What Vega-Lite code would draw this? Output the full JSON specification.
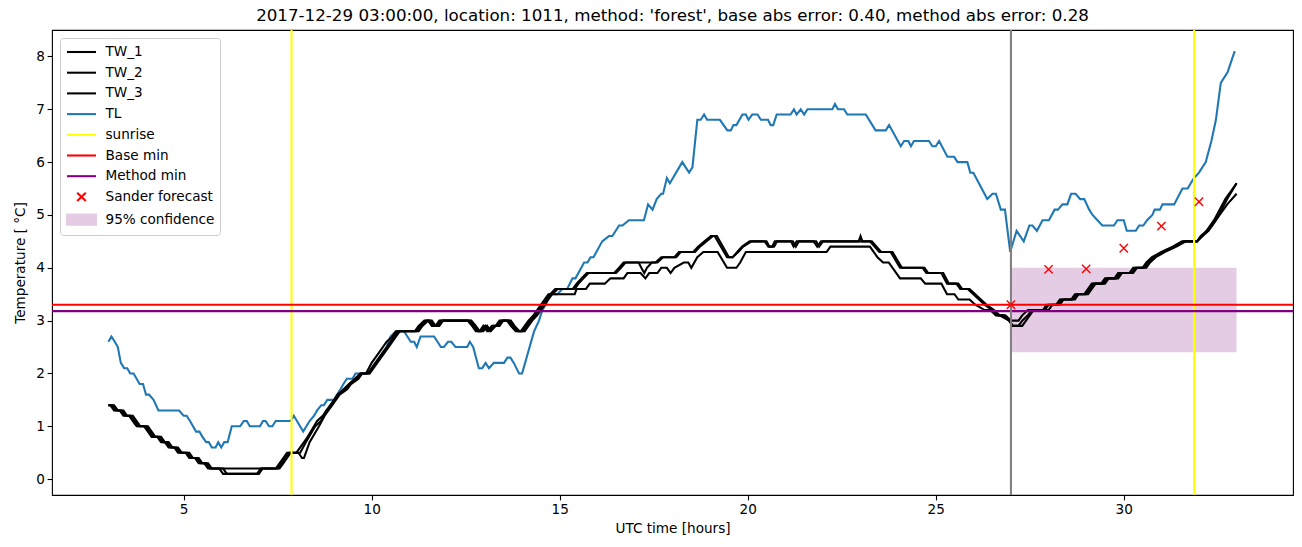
{
"$schema": "https://vega.github.io/schema/vega-lite/v6.json",
"width": 1241, "height": 465,
"autosize": {"type": "none"},
"padding": {"left": 52, "top": 30, "right": 9, "bottom": 52},
"background": "white",
"title": {"text": "2017-12-29 03:00:00, location: 1011, method: 'forest', base abs error: 0.40, method abs error: 0.28", "fontSize": 16.7, "font": "DejaVu Sans", "fontWeight": "normal", "offset": 4, "anchor": "middle", "color": "black"},
"config": {
  "font": "DejaVu Sans",
  "view": {"stroke": "black", "strokeWidth": 1.1},
  "axis": {"grid": false, "domain": false, "tickColor": "black", "tickSize": 4.9, "tickWidth": 1.1, "labelFontSize": 13.6, "labelColor": "black", "titleFontSize": 13.6, "titleFontWeight": "normal", "titleColor": "black", "labelFont": "DejaVu Sans", "titleFont": "DejaVu Sans", "labelPadding": 2.8},
  "legend": {
    "title": null, "orient": "top-left", "offset": 8, "padding": 5.5, "fillColor": "rgba(255,255,255,0.8)", "strokeColor": "#cccccc", "cornerRadius": 3,
    "labelFont": "DejaVu Sans", "labelFontSize": 13.6, "labelColor": "black", "labelOffset": 23, "rowPadding": 4.7, "symbolSize": 196, "symbolStrokeWidth": 2.08,
    "labelLimit": 300
  }
},
"datasets": {
  "lines": [
{"series":"TL","t":3.0,"v":2.6},{"series":"TL","t":3.08,"v":2.7},{"series":"TL","t":3.17,"v":2.6},{"series":"TL","t":3.25,"v":2.5},{"series":"TL","t":3.33,"v":2.2},{"series":"TL","t":3.42,"v":2.1},{"series":"TL","t":3.5,"v":2.1},{"series":"TL","t":3.58,"v":2.0},{"series":"TL","t":3.67,"v":2.0},{"series":"TL","t":3.75,"v":1.9},{"series":"TL","t":3.83,"v":1.8},{"series":"TL","t":3.92,"v":1.8},{"series":"TL","t":4.0,"v":1.6},{"series":"TL","t":4.08,"v":1.6},{"series":"TL","t":4.2,"v":1.5},{"series":"TL","t":4.33,"v":1.3},{"series":"TL","t":4.88,"v":1.3},{"series":"TL","t":5.0,"v":1.2},{"series":"TL","t":5.08,"v":1.2},{"series":"TL","t":5.17,"v":1.1},{"series":"TL","t":5.33,"v":0.9},{"series":"TL","t":5.42,"v":0.9},{"series":"TL","t":5.5,"v":0.8},{"series":"TL","t":5.6,"v":0.7},{"series":"TL","t":5.67,"v":0.7},{"series":"TL","t":5.75,"v":0.6},{"series":"TL","t":5.85,"v":0.6},{"series":"TL","t":5.92,"v":0.7},{"series":"TL","t":6.0,"v":0.6},{"series":"TL","t":6.08,"v":0.7},{"series":"TL","t":6.17,"v":0.7},{"series":"TL","t":6.28,"v":1.0},{"series":"TL","t":6.5,"v":1.0},{"series":"TL","t":6.6,"v":1.1},{"series":"TL","t":6.68,"v":1.1},{"series":"TL","t":6.76,"v":1.0},{"series":"TL","t":7.03,"v":1.0},{"series":"TL","t":7.11,"v":1.1},{"series":"TL","t":7.18,"v":1.1},{"series":"TL","t":7.27,"v":1.0},{"series":"TL","t":7.36,"v":1.0},{"series":"TL","t":7.45,"v":1.1},{"series":"TL","t":7.85,"v":1.1},{"series":"TL","t":7.93,"v":1.2},{"series":"TL","t":8.18,"v":0.9},{"series":"TL","t":8.35,"v":1.1},{"series":"TL","t":8.47,"v":1.2},{"series":"TL","t":8.55,"v":1.3},{"series":"TL","t":8.66,"v":1.4},{"series":"TL","t":8.73,"v":1.4},{"series":"TL","t":8.82,"v":1.5},{"series":"TL","t":9.0,"v":1.5},{"series":"TL","t":9.08,"v":1.6},{"series":"TL","t":9.17,"v":1.7},{"series":"TL","t":9.25,"v":1.8},{"series":"TL","t":9.34,"v":1.9},{"series":"TL","t":9.49,"v":1.9},{"series":"TL","t":9.57,"v":2.0},{"series":"TL","t":9.93,"v":2.0},{"series":"TL","t":10.0,"v":2.1},{"series":"TL","t":10.1,"v":2.2},{"series":"TL","t":10.2,"v":2.3},{"series":"TL","t":10.3,"v":2.4},{"series":"TL","t":10.4,"v":2.5},{"series":"TL","t":10.5,"v":2.7},{"series":"TL","t":10.64,"v":2.8},{"series":"TL","t":10.86,"v":2.8},{"series":"TL","t":10.95,"v":2.7},{"series":"TL","t":11.04,"v":2.6},{"series":"TL","t":11.13,"v":2.6},{"series":"TL","t":11.2,"v":2.5},{"series":"TL","t":11.3,"v":2.7},{"series":"TL","t":11.66,"v":2.7},{"series":"TL","t":11.84,"v":2.5},{"series":"TL","t":11.92,"v":2.5},{"series":"TL","t":12.03,"v":2.6},{"series":"TL","t":12.12,"v":2.6},{"series":"TL","t":12.23,"v":2.5},{"series":"TL","t":12.54,"v":2.5},{"series":"TL","t":12.61,"v":2.6},{"series":"TL","t":12.7,"v":2.5},{"series":"TL","t":12.85,"v":2.1},{"series":"TL","t":12.94,"v":2.1},{"series":"TL","t":13.03,"v":2.2},{"series":"TL","t":13.12,"v":2.1},{"series":"TL","t":13.25,"v":2.2},{"series":"TL","t":13.52,"v":2.2},{"series":"TL","t":13.61,"v":2.3},{"series":"TL","t":13.69,"v":2.3},{"series":"TL","t":13.78,"v":2.2},{"series":"TL","t":13.92,"v":2.0},{"series":"TL","t":14.0,"v":2.0},{"series":"TL","t":14.32,"v":2.8},{"series":"TL","t":14.45,"v":3.0},{"series":"TL","t":14.54,"v":3.2},{"series":"TL","t":14.63,"v":3.3},{"series":"TL","t":14.74,"v":3.5},{"series":"TL","t":14.94,"v":3.5},{"series":"TL","t":15.07,"v":3.6},{"series":"TL","t":15.2,"v":3.6},{"series":"TL","t":15.34,"v":3.8},{"series":"TL","t":15.42,"v":3.8},{"series":"TL","t":15.65,"v":4.1},{"series":"TL","t":15.74,"v":4.1},{"series":"TL","t":15.82,"v":4.2},{"series":"TL","t":15.9,"v":4.2},{"series":"TL","t":16.13,"v":4.5},{"series":"TL","t":16.31,"v":4.6},{"series":"TL","t":16.4,"v":4.6},{"series":"TL","t":16.58,"v":4.8},{"series":"TL","t":16.67,"v":4.8},{"series":"TL","t":16.84,"v":4.9},{"series":"TL","t":17.24,"v":4.9},{"series":"TL","t":17.35,"v":5.2},{"series":"TL","t":17.47,"v":5.1},{"series":"TL","t":17.58,"v":5.3},{"series":"TL","t":17.7,"v":5.4},{"series":"TL","t":17.75,"v":5.4},{"series":"TL","t":17.85,"v":5.7},{"series":"TL","t":17.93,"v":5.6},{"series":"TL","t":18.26,"v":6.0},{"series":"TL","t":18.44,"v":5.8},{"series":"TL","t":18.53,"v":5.9},{"series":"TL","t":18.66,"v":6.8},{"series":"TL","t":18.75,"v":6.8},{"series":"TL","t":18.84,"v":6.9},{"series":"TL","t":18.92,"v":6.8},{"series":"TL","t":19.26,"v":6.8},{"series":"TL","t":19.46,"v":6.6},{"series":"TL","t":19.55,"v":6.6},{"series":"TL","t":19.62,"v":6.7},{"series":"TL","t":19.7,"v":6.7},{"series":"TL","t":19.86,"v":6.9},{"series":"TL","t":19.95,"v":6.9},{"series":"TL","t":20.02,"v":6.8},{"series":"TL","t":20.12,"v":6.9},{"series":"TL","t":20.26,"v":6.9},{"series":"TL","t":20.35,"v":6.8},{"series":"TL","t":20.54,"v":6.8},{"series":"TL","t":20.61,"v":6.7},{"series":"TL","t":20.68,"v":6.7},{"series":"TL","t":20.77,"v":6.9},{"series":"TL","t":21.14,"v":6.9},{"series":"TL","t":21.23,"v":7.0},{"series":"TL","t":21.3,"v":6.9},{"series":"TL","t":21.41,"v":7.0},{"series":"TL","t":21.5,"v":6.9},{"series":"TL","t":21.59,"v":7.0},{"series":"TL","t":22.25,"v":7.0},{"series":"TL","t":22.32,"v":7.1},{"series":"TL","t":22.4,"v":7.0},{"series":"TL","t":22.56,"v":7.0},{"series":"TL","t":22.65,"v":6.9},{"series":"TL","t":23.14,"v":6.9},{"series":"TL","t":23.4,"v":6.6},{"series":"TL","t":23.67,"v":6.6},{"series":"TL","t":23.76,"v":6.7},{"series":"TL","t":24.07,"v":6.3},{"series":"TL","t":24.16,"v":6.4},{"series":"TL","t":24.27,"v":6.4},{"series":"TL","t":24.34,"v":6.3},{"series":"TL","t":24.42,"v":6.4},{"series":"TL","t":24.82,"v":6.4},{"series":"TL","t":24.91,"v":6.3},{"series":"TL","t":25.0,"v":6.3},{"series":"TL","t":25.09,"v":6.4},{"series":"TL","t":25.31,"v":6.1},{"series":"TL","t":25.49,"v":6.1},{"series":"TL","t":25.58,"v":6.0},{"series":"TL","t":25.84,"v":6.0},{"series":"TL","t":25.92,"v":5.8},{"series":"TL","t":26.0,"v":5.8},{"series":"TL","t":26.37,"v":5.3},{"series":"TL","t":26.51,"v":5.4},{"series":"TL","t":26.6,"v":5.4},{"series":"TL","t":26.73,"v":5.1},{"series":"TL","t":26.84,"v":5.1},{"series":"TL","t":26.98,"v":4.3},{"series":"TL","t":27.15,"v":4.7},{"series":"TL","t":27.34,"v":4.5},{"series":"TL","t":27.49,"v":4.8},{"series":"TL","t":27.57,"v":4.8},{"series":"TL","t":27.69,"v":4.7},{"series":"TL","t":27.84,"v":4.9},{"series":"TL","t":28.01,"v":4.9},{"series":"TL","t":28.16,"v":5.1},{"series":"TL","t":28.25,"v":5.1},{"series":"TL","t":28.37,"v":5.2},{"series":"TL","t":28.5,"v":5.2},{"series":"TL","t":28.6,"v":5.4},{"series":"TL","t":28.72,"v":5.4},{"series":"TL","t":28.84,"v":5.3},{"series":"TL","t":28.95,"v":5.3},{"series":"TL","t":29.08,"v":5.1},{"series":"TL","t":29.17,"v":5.0},{"series":"TL","t":29.3,"v":4.9},{"series":"TL","t":29.43,"v":4.8},{"series":"TL","t":29.74,"v":4.8},{"series":"TL","t":29.83,"v":4.9},{"series":"TL","t":30.0,"v":4.9},{"series":"TL","t":30.08,"v":4.7},{"series":"TL","t":30.32,"v":4.7},{"series":"TL","t":30.41,"v":4.8},{"series":"TL","t":30.52,"v":4.8},{"series":"TL","t":30.62,"v":4.9},{"series":"TL","t":30.76,"v":5.0},{"series":"TL","t":30.82,"v":5.1},{"series":"TL","t":30.96,"v":5.1},{"series":"TL","t":31.03,"v":5.2},{"series":"TL","t":31.34,"v":5.2},{"series":"TL","t":31.56,"v":5.5},{"series":"TL","t":31.7,"v":5.5},{"series":"TL","t":31.78,"v":5.6},{"series":"TL","t":31.87,"v":5.7},{"series":"TL","t":32.0,"v":5.8},{"series":"TL","t":32.18,"v":6.0},{"series":"TL","t":32.33,"v":6.4},{"series":"TL","t":32.45,"v":6.8},{"series":"TL","t":32.58,"v":7.5},{"series":"TL","t":32.76,"v":7.7},{"series":"TL","t":32.95,"v":8.1},

{"series":"TW_1","t":3.0,"v":1.4},{"series":"TW_1","t":3.1,"v":1.4},{"series":"TW_1","t":3.2,"v":1.3},{"series":"TW_1","t":3.35,"v":1.3},{"series":"TW_1","t":3.45,"v":1.2},{"series":"TW_1","t":3.6,"v":1.2},{"series":"TW_1","t":3.7,"v":1.1},{"series":"TW_1","t":3.8,"v":1.0},{"series":"TW_1","t":4.0,"v":1.0},{"series":"TW_1","t":4.1,"v":0.9},{"series":"TW_1","t":4.2,"v":0.8},{"series":"TW_1","t":4.35,"v":0.8},{"series":"TW_1","t":4.45,"v":0.7},{"series":"TW_1","t":4.55,"v":0.7},{"series":"TW_1","t":4.65,"v":0.6},{"series":"TW_1","t":4.8,"v":0.6},{"series":"TW_1","t":4.9,"v":0.5},{"series":"TW_1","t":5.1,"v":0.5},{"series":"TW_1","t":5.2,"v":0.4},{"series":"TW_1","t":5.35,"v":0.4},{"series":"TW_1","t":5.45,"v":0.3},{"series":"TW_1","t":5.6,"v":0.3},{"series":"TW_1","t":5.7,"v":0.2},{"series":"TW_1","t":7.5,"v":0.2},{"series":"TW_1","t":7.6,"v":0.3},{"series":"TW_1","t":7.7,"v":0.4},{"series":"TW_1","t":7.8,"v":0.5},{"series":"TW_1","t":8.0,"v":0.5},{"series":"TW_1","t":8.3,"v":0.8},{"series":"TW_1","t":8.55,"v":1.1},{"series":"TW_1","t":8.7,"v":1.2},{"series":"TW_1","t":8.8,"v":1.3},{"series":"TW_1","t":9.0,"v":1.5},{"series":"TW_1","t":9.1,"v":1.6},{"series":"TW_1","t":9.3,"v":1.7},{"series":"TW_1","t":9.4,"v":1.8},{"series":"TW_1","t":9.6,"v":1.9},{"series":"TW_1","t":9.7,"v":2.0},{"series":"TW_1","t":9.9,"v":2.0},{"series":"TW_1","t":10.0,"v":2.1},{"series":"TW_1","t":10.2,"v":2.3},{"series":"TW_1","t":10.4,"v":2.5},{"series":"TW_1","t":10.6,"v":2.7},{"series":"TW_1","t":10.7,"v":2.8},{"series":"TW_1","t":11.2,"v":2.8},{"series":"TW_1","t":11.3,"v":2.9},{"series":"TW_1","t":11.45,"v":3.0},{"series":"TW_1","t":11.55,"v":3.0},{"series":"TW_1","t":11.65,"v":2.9},{"series":"TW_1","t":11.75,"v":2.9},{"series":"TW_1","t":11.85,"v":3.0},{"series":"TW_1","t":12.6,"v":3.0},{"series":"TW_1","t":12.72,"v":2.9},{"series":"TW_1","t":12.82,"v":2.8},{"series":"TW_1","t":12.92,"v":2.8},{"series":"TW_1","t":13.02,"v":2.9},{"series":"TW_1","t":13.12,"v":2.8},{"series":"TW_1","t":13.25,"v":2.9},{"series":"TW_1","t":13.35,"v":2.9},{"series":"TW_1","t":13.45,"v":3.0},{"series":"TW_1","t":13.65,"v":3.0},{"series":"TW_1","t":13.75,"v":2.9},{"series":"TW_1","t":13.88,"v":2.8},{"series":"TW_1","t":14.02,"v":2.8},{"series":"TW_1","t":14.12,"v":2.9},{"series":"TW_1","t":14.22,"v":3.0},{"series":"TW_1","t":14.35,"v":3.1},{"series":"TW_1","t":14.45,"v":3.2},{"series":"TW_1","t":14.55,"v":3.3},{"series":"TW_1","t":14.65,"v":3.4},{"series":"TW_1","t":14.75,"v":3.5},{"series":"TW_1","t":14.88,"v":3.6},{"series":"TW_1","t":15.35,"v":3.6},{"series":"TW_1","t":15.45,"v":3.7},{"series":"TW_1","t":15.58,"v":3.8},{"series":"TW_1","t":15.72,"v":3.9},{"series":"TW_1","t":16.45,"v":3.9},{"series":"TW_1","t":16.58,"v":4.0},{"series":"TW_1","t":16.7,"v":4.1},{"series":"TW_1","t":17.55,"v":4.1},{"series":"TW_1","t":17.7,"v":4.2},{"series":"TW_1","t":18.05,"v":4.2},{"series":"TW_1","t":18.17,"v":4.3},{"series":"TW_1","t":18.55,"v":4.3},{"series":"TW_1","t":18.68,"v":4.4},{"series":"TW_1","t":18.85,"v":4.5},{"series":"TW_1","t":19.02,"v":4.6},{"series":"TW_1","t":19.18,"v":4.6},{"series":"TW_1","t":19.5,"v":4.2},{"series":"TW_1","t":19.6,"v":4.2},{"series":"TW_1","t":19.75,"v":4.3},{"series":"TW_1","t":19.88,"v":4.4},{"series":"TW_1","t":20.1,"v":4.5},{"series":"TW_1","t":20.5,"v":4.5},{"series":"TW_1","t":20.58,"v":4.4},{"series":"TW_1","t":20.7,"v":4.4},{"series":"TW_1","t":20.78,"v":4.5},{"series":"TW_1","t":21.2,"v":4.5},{"series":"TW_1","t":21.28,"v":4.4},{"series":"TW_1","t":21.36,"v":4.5},{"series":"TW_1","t":21.82,"v":4.5},{"series":"TW_1","t":21.9,"v":4.4},{"series":"TW_1","t":22.0,"v":4.5},{"series":"TW_1","t":22.95,"v":4.5},{"series":"TW_1","t":23.0,"v":4.6},{"series":"TW_1","t":23.05,"v":4.5},{"series":"TW_1","t":23.25,"v":4.5},{"series":"TW_1","t":23.5,"v":4.3},{"series":"TW_1","t":23.8,"v":4.3},{"series":"TW_1","t":24.05,"v":4.0},{"series":"TW_1","t":24.65,"v":4.0},{"series":"TW_1","t":24.75,"v":3.9},{"series":"TW_1","t":25.15,"v":3.9},{"series":"TW_1","t":25.3,"v":3.7},{"series":"TW_1","t":25.55,"v":3.7},{"series":"TW_1","t":25.65,"v":3.6},{"series":"TW_1","t":25.85,"v":3.6},{"series":"TW_1","t":26.0,"v":3.5},{"series":"TW_1","t":26.15,"v":3.4},{"series":"TW_1","t":26.3,"v":3.3},{"series":"TW_1","t":26.5,"v":3.2},{"series":"TW_1","t":26.65,"v":3.1},{"series":"TW_1","t":26.85,"v":3.1},{"series":"TW_1","t":27.0,"v":3.0},{"series":"TW_1","t":27.2,"v":3.0},{"series":"TW_1","t":27.3,"v":3.1},{"series":"TW_1","t":27.45,"v":3.2},{"series":"TW_1","t":27.85,"v":3.2},{"series":"TW_1","t":27.95,"v":3.3},{"series":"TW_1","t":28.2,"v":3.3},{"series":"TW_1","t":28.3,"v":3.4},{"series":"TW_1","t":28.6,"v":3.4},{"series":"TW_1","t":28.7,"v":3.5},{"series":"TW_1","t":28.95,"v":3.5},{"series":"TW_1","t":29.05,"v":3.6},{"series":"TW_1","t":29.15,"v":3.7},{"series":"TW_1","t":29.4,"v":3.7},{"series":"TW_1","t":29.5,"v":3.8},{"series":"TW_1","t":29.75,"v":3.8},{"series":"TW_1","t":29.85,"v":3.9},{"series":"TW_1","t":30.15,"v":3.9},{"series":"TW_1","t":30.25,"v":4.0},{"series":"TW_1","t":30.5,"v":4.0},{"series":"TW_1","t":30.6,"v":4.1},{"series":"TW_1","t":30.75,"v":4.2},{"series":"TW_1","t":31.0,"v":4.3},{"series":"TW_1","t":31.3,"v":4.4},{"series":"TW_1","t":31.55,"v":4.5},{"series":"TW_1","t":31.95,"v":4.5},{"series":"TW_1","t":32.05,"v":4.6},{"series":"TW_1","t":32.2,"v":4.7},{"series":"TW_1","t":32.4,"v":4.9},{"series":"TW_1","t":32.7,"v":5.3},{"series":"TW_1","t":33.0,"v":5.6},

{"series":"TW_2","t":3.0,"v":1.4},{"series":"TW_2","t":3.15,"v":1.4},{"series":"TW_2","t":3.25,"v":1.3},{"series":"TW_2","t":3.4,"v":1.3},{"series":"TW_2","t":3.5,"v":1.2},{"series":"TW_2","t":3.65,"v":1.2},{"series":"TW_2","t":3.75,"v":1.1},{"series":"TW_2","t":3.85,"v":1.0},{"series":"TW_2","t":4.05,"v":1.0},{"series":"TW_2","t":4.15,"v":0.9},{"series":"TW_2","t":4.25,"v":0.8},{"series":"TW_2","t":4.4,"v":0.8},{"series":"TW_2","t":4.5,"v":0.7},{"series":"TW_2","t":4.6,"v":0.7},{"series":"TW_2","t":4.7,"v":0.6},{"series":"TW_2","t":4.85,"v":0.6},{"series":"TW_2","t":4.95,"v":0.5},{"series":"TW_2","t":5.15,"v":0.5},{"series":"TW_2","t":5.25,"v":0.4},{"series":"TW_2","t":5.4,"v":0.4},{"series":"TW_2","t":5.5,"v":0.3},{"series":"TW_2","t":5.65,"v":0.3},{"series":"TW_2","t":5.75,"v":0.2},{"series":"TW_2","t":6.05,"v":0.2},{"series":"TW_2","t":6.15,"v":0.1},{"series":"TW_2","t":7.0,"v":0.1},{"series":"TW_2","t":7.1,"v":0.2},{"series":"TW_2","t":7.55,"v":0.2},{"series":"TW_2","t":7.65,"v":0.3},{"series":"TW_2","t":7.75,"v":0.4},{"series":"TW_2","t":7.85,"v":0.5},{"series":"TW_2","t":8.05,"v":0.5},{"series":"TW_2","t":8.15,"v":0.4},{"series":"TW_2","t":8.2,"v":0.4},{"series":"TW_2","t":8.35,"v":0.7},{"series":"TW_2","t":8.6,"v":1.0},{"series":"TW_2","t":8.75,"v":1.2},{"series":"TW_2","t":8.85,"v":1.3},{"series":"TW_2","t":9.05,"v":1.5},{"series":"TW_2","t":9.15,"v":1.6},{"series":"TW_2","t":9.35,"v":1.7},{"series":"TW_2","t":9.45,"v":1.8},{"series":"TW_2","t":9.65,"v":1.9},{"series":"TW_2","t":9.75,"v":2.0},{"series":"TW_2","t":9.95,"v":2.0},{"series":"TW_2","t":10.05,"v":2.1},{"series":"TW_2","t":10.25,"v":2.3},{"series":"TW_2","t":10.45,"v":2.5},{"series":"TW_2","t":10.65,"v":2.7},{"series":"TW_2","t":10.75,"v":2.8},{"series":"TW_2","t":11.25,"v":2.8},{"series":"TW_2","t":11.35,"v":2.9},{"series":"TW_2","t":11.5,"v":3.0},{"series":"TW_2","t":11.6,"v":3.0},{"series":"TW_2","t":11.7,"v":2.9},{"series":"TW_2","t":11.8,"v":2.9},{"series":"TW_2","t":11.9,"v":3.0},{"series":"TW_2","t":12.65,"v":3.0},{"series":"TW_2","t":12.77,"v":2.9},{"series":"TW_2","t":12.87,"v":2.8},{"series":"TW_2","t":12.97,"v":2.8},{"series":"TW_2","t":13.07,"v":2.9},{"series":"TW_2","t":13.17,"v":2.8},{"series":"TW_2","t":13.3,"v":2.9},{"series":"TW_2","t":13.4,"v":2.9},{"series":"TW_2","t":13.5,"v":3.0},{"series":"TW_2","t":13.7,"v":3.0},{"series":"TW_2","t":13.8,"v":2.9},{"series":"TW_2","t":13.93,"v":2.8},{"series":"TW_2","t":14.07,"v":2.8},{"series":"TW_2","t":14.17,"v":2.9},{"series":"TW_2","t":14.27,"v":3.0},{"series":"TW_2","t":14.4,"v":3.1},{"series":"TW_2","t":14.5,"v":3.2},{"series":"TW_2","t":14.6,"v":3.3},{"series":"TW_2","t":14.7,"v":3.4},{"series":"TW_2","t":14.8,"v":3.5},{"series":"TW_2","t":14.95,"v":3.6},{"series":"TW_2","t":15.4,"v":3.6},{"series":"TW_2","t":15.5,"v":3.7},{"series":"TW_2","t":15.63,"v":3.8},{"series":"TW_2","t":15.77,"v":3.9},{"series":"TW_2","t":16.5,"v":3.9},{"series":"TW_2","t":16.63,"v":4.0},{"series":"TW_2","t":16.75,"v":4.1},{"series":"TW_2","t":17.1,"v":4.1},{"series":"TW_2","t":17.17,"v":4.0},{"series":"TW_2","t":17.25,"v":3.9},{"series":"TW_2","t":17.32,"v":4.0},{"series":"TW_2","t":17.45,"v":4.1},{"series":"TW_2","t":17.6,"v":4.1},{"series":"TW_2","t":17.75,"v":4.2},{"series":"TW_2","t":18.1,"v":4.2},{"series":"TW_2","t":18.22,"v":4.3},{"series":"TW_2","t":18.6,"v":4.3},{"series":"TW_2","t":18.73,"v":4.4},{"series":"TW_2","t":18.9,"v":4.5},{"series":"TW_2","t":19.07,"v":4.6},{"series":"TW_2","t":19.12,"v":4.6},{"series":"TW_2","t":19.45,"v":4.2},{"series":"TW_2","t":19.6,"v":4.2},{"series":"TW_2","t":19.72,"v":4.3},{"series":"TW_2","t":19.85,"v":4.4},{"series":"TW_2","t":20.05,"v":4.5},{"series":"TW_2","t":20.45,"v":4.5},{"series":"TW_2","t":20.55,"v":4.4},{"series":"TW_2","t":20.65,"v":4.4},{"series":"TW_2","t":20.72,"v":4.5},{"series":"TW_2","t":21.15,"v":4.5},{"series":"TW_2","t":21.22,"v":4.4},{"series":"TW_2","t":21.3,"v":4.5},{"series":"TW_2","t":21.75,"v":4.5},{"series":"TW_2","t":21.85,"v":4.4},{"series":"TW_2","t":21.95,"v":4.5},{"series":"TW_2","t":23.3,"v":4.5},{"series":"TW_2","t":23.55,"v":4.3},{"series":"TW_2","t":23.85,"v":4.3},{"series":"TW_2","t":24.1,"v":4.0},{"series":"TW_2","t":24.7,"v":4.0},{"series":"TW_2","t":24.8,"v":3.9},{"series":"TW_2","t":25.2,"v":3.9},{"series":"TW_2","t":25.35,"v":3.7},{"series":"TW_2","t":25.6,"v":3.7},{"series":"TW_2","t":25.7,"v":3.6},{"series":"TW_2","t":25.9,"v":3.6},{"series":"TW_2","t":26.05,"v":3.5},{"series":"TW_2","t":26.2,"v":3.4},{"series":"TW_2","t":26.35,"v":3.3},{"series":"TW_2","t":26.55,"v":3.2},{"series":"TW_2","t":26.7,"v":3.1},{"series":"TW_2","t":26.95,"v":3.0},{"series":"TW_2","t":27.05,"v":2.9},{"series":"TW_2","t":27.3,"v":2.9},{"series":"TW_2","t":27.4,"v":3.0},{"series":"TW_2","t":27.5,"v":3.1},{"series":"TW_2","t":27.6,"v":3.2},{"series":"TW_2","t":28.0,"v":3.2},{"series":"TW_2","t":28.1,"v":3.3},{"series":"TW_2","t":28.3,"v":3.3},{"series":"TW_2","t":28.4,"v":3.4},{"series":"TW_2","t":28.7,"v":3.4},{"series":"TW_2","t":28.8,"v":3.5},{"series":"TW_2","t":29.05,"v":3.5},{"series":"TW_2","t":29.15,"v":3.6},{"series":"TW_2","t":29.25,"v":3.7},{"series":"TW_2","t":29.5,"v":3.7},{"series":"TW_2","t":29.6,"v":3.8},{"series":"TW_2","t":29.85,"v":3.8},{"series":"TW_2","t":29.95,"v":3.9},{"series":"TW_2","t":30.25,"v":3.9},{"series":"TW_2","t":30.35,"v":4.0},{"series":"TW_2","t":30.6,"v":4.0},{"series":"TW_2","t":30.7,"v":4.1},{"series":"TW_2","t":30.85,"v":4.2},{"series":"TW_2","t":31.1,"v":4.3},{"series":"TW_2","t":31.4,"v":4.4},{"series":"TW_2","t":31.65,"v":4.5},{"series":"TW_2","t":31.95,"v":4.5},{"series":"TW_2","t":32.1,"v":4.6},{"series":"TW_2","t":32.25,"v":4.7},{"series":"TW_2","t":32.45,"v":4.9},{"series":"TW_2","t":32.75,"v":5.3},{"series":"TW_2","t":33.0,"v":5.6},

{"series":"TW_3","t":3.0,"v":1.4},{"series":"TW_3","t":3.05,"v":1.4},{"series":"TW_3","t":3.15,"v":1.3},{"series":"TW_3","t":3.3,"v":1.3},{"series":"TW_3","t":3.4,"v":1.2},{"series":"TW_3","t":3.55,"v":1.2},{"series":"TW_3","t":3.65,"v":1.1},{"series":"TW_3","t":3.75,"v":1.0},{"series":"TW_3","t":3.95,"v":1.0},{"series":"TW_3","t":4.05,"v":0.9},{"series":"TW_3","t":4.15,"v":0.8},{"series":"TW_3","t":4.3,"v":0.8},{"series":"TW_3","t":4.4,"v":0.7},{"series":"TW_3","t":4.5,"v":0.7},{"series":"TW_3","t":4.6,"v":0.6},{"series":"TW_3","t":4.75,"v":0.6},{"series":"TW_3","t":4.85,"v":0.5},{"series":"TW_3","t":5.05,"v":0.5},{"series":"TW_3","t":5.15,"v":0.4},{"series":"TW_3","t":5.3,"v":0.4},{"series":"TW_3","t":5.4,"v":0.3},{"series":"TW_3","t":5.55,"v":0.3},{"series":"TW_3","t":5.65,"v":0.2},{"series":"TW_3","t":5.95,"v":0.2},{"series":"TW_3","t":6.05,"v":0.1},{"series":"TW_3","t":6.95,"v":0.1},{"series":"TW_3","t":7.05,"v":0.2},{"series":"TW_3","t":7.45,"v":0.2},{"series":"TW_3","t":7.55,"v":0.3},{"series":"TW_3","t":7.65,"v":0.4},{"series":"TW_3","t":7.75,"v":0.5},{"series":"TW_3","t":8.1,"v":0.5},{"series":"TW_3","t":8.25,"v":0.7},{"series":"TW_3","t":8.5,"v":1.0},{"series":"TW_3","t":8.65,"v":1.1},{"series":"TW_3","t":8.8,"v":1.3},{"series":"TW_3","t":8.95,"v":1.4},{"series":"TW_3","t":9.1,"v":1.6},{"series":"TW_3","t":9.25,"v":1.7},{"series":"TW_3","t":9.4,"v":1.8},{"series":"TW_3","t":9.55,"v":1.9},{"series":"TW_3","t":9.7,"v":2.0},{"series":"TW_3","t":9.85,"v":2.0},{"series":"TW_3","t":10.0,"v":2.2},{"series":"TW_3","t":10.2,"v":2.4},{"series":"TW_3","t":10.4,"v":2.6},{"series":"TW_3","t":10.55,"v":2.7},{"series":"TW_3","t":10.65,"v":2.8},{"series":"TW_3","t":11.15,"v":2.8},{"series":"TW_3","t":11.25,"v":2.9},{"series":"TW_3","t":11.4,"v":3.0},{"series":"TW_3","t":11.5,"v":3.0},{"series":"TW_3","t":11.6,"v":2.9},{"series":"TW_3","t":11.7,"v":2.9},{"series":"TW_3","t":11.8,"v":3.0},{"series":"TW_3","t":12.55,"v":3.0},{"series":"TW_3","t":12.67,"v":2.9},{"series":"TW_3","t":12.77,"v":2.8},{"series":"TW_3","t":12.87,"v":2.8},{"series":"TW_3","t":12.97,"v":2.9},{"series":"TW_3","t":13.07,"v":2.8},{"series":"TW_3","t":13.2,"v":2.9},{"series":"TW_3","t":13.3,"v":2.9},{"series":"TW_3","t":13.4,"v":3.0},{"series":"TW_3","t":13.6,"v":3.0},{"series":"TW_3","t":13.7,"v":2.9},{"series":"TW_3","t":13.83,"v":2.8},{"series":"TW_3","t":13.97,"v":2.8},{"series":"TW_3","t":14.07,"v":2.9},{"series":"TW_3","t":14.17,"v":3.0},{"series":"TW_3","t":14.3,"v":3.1},{"series":"TW_3","t":14.4,"v":3.2},{"series":"TW_3","t":14.5,"v":3.3},{"series":"TW_3","t":14.6,"v":3.4},{"series":"TW_3","t":14.7,"v":3.5},{"series":"TW_3","t":15.4,"v":3.5},{"series":"TW_3","t":15.45,"v":3.6},{"series":"TW_3","t":15.7,"v":3.6},{"series":"TW_3","t":15.8,"v":3.7},{"series":"TW_3","t":16.2,"v":3.7},{"series":"TW_3","t":16.35,"v":3.8},{"series":"TW_3","t":16.7,"v":3.8},{"series":"TW_3","t":16.8,"v":3.9},{"series":"TW_3","t":17.15,"v":3.9},{"series":"TW_3","t":17.28,"v":3.8},{"series":"TW_3","t":17.38,"v":3.9},{"series":"TW_3","t":17.6,"v":3.9},{"series":"TW_3","t":17.7,"v":4.0},{"series":"TW_3","t":17.85,"v":4.0},{"series":"TW_3","t":17.95,"v":3.9},{"series":"TW_3","t":18.05,"v":4.0},{"series":"TW_3","t":18.3,"v":4.1},{"series":"TW_3","t":18.42,"v":4.1},{"series":"TW_3","t":18.5,"v":4.0},{"series":"TW_3","t":18.66,"v":4.2},{"series":"TW_3","t":18.82,"v":4.3},{"series":"TW_3","t":19.2,"v":4.3},{"series":"TW_3","t":19.45,"v":4.0},{"series":"TW_3","t":19.7,"v":4.0},{"series":"TW_3","t":19.8,"v":4.1},{"series":"TW_3","t":19.95,"v":4.3},{"series":"TW_3","t":22.1,"v":4.3},{"series":"TW_3","t":22.2,"v":4.4},{"series":"TW_3","t":23.25,"v":4.4},{"series":"TW_3","t":23.45,"v":4.2},{"series":"TW_3","t":23.6,"v":4.1},{"series":"TW_3","t":23.75,"v":4.1},{"series":"TW_3","t":24.05,"v":3.8},{"series":"TW_3","t":24.6,"v":3.8},{"series":"TW_3","t":24.72,"v":3.7},{"series":"TW_3","t":25.15,"v":3.7},{"series":"TW_3","t":25.3,"v":3.5},{"series":"TW_3","t":25.5,"v":3.5},{"series":"TW_3","t":25.6,"v":3.4},{"series":"TW_3","t":25.9,"v":3.4},{"series":"TW_3","t":26.05,"v":3.3},{"series":"TW_3","t":26.3,"v":3.2},{"series":"TW_3","t":26.45,"v":3.2},{"series":"TW_3","t":26.6,"v":3.1},{"series":"TW_3","t":26.8,"v":3.1},{"series":"TW_3","t":26.95,"v":3.0},{"series":"TW_3","t":27.05,"v":2.9},{"series":"TW_3","t":27.2,"v":2.9},{"series":"TW_3","t":27.3,"v":3.0},{"series":"TW_3","t":27.45,"v":3.1},{"series":"TW_3","t":27.55,"v":3.2},{"series":"TW_3","t":27.9,"v":3.2},{"series":"TW_3","t":28.0,"v":3.3},{"series":"TW_3","t":28.25,"v":3.3},{"series":"TW_3","t":28.35,"v":3.4},{"series":"TW_3","t":28.65,"v":3.4},{"series":"TW_3","t":28.75,"v":3.5},{"series":"TW_3","t":29.0,"v":3.5},{"series":"TW_3","t":29.1,"v":3.6},{"series":"TW_3","t":29.2,"v":3.7},{"series":"TW_3","t":29.45,"v":3.7},{"series":"TW_3","t":29.55,"v":3.8},{"series":"TW_3","t":29.8,"v":3.8},{"series":"TW_3","t":29.9,"v":3.9},{"series":"TW_3","t":30.2,"v":3.9},{"series":"TW_3","t":30.3,"v":4.0},{"series":"TW_3","t":30.55,"v":4.0},{"series":"TW_3","t":30.65,"v":4.1},{"series":"TW_3","t":30.8,"v":4.2},{"series":"TW_3","t":31.05,"v":4.3},{"series":"TW_3","t":31.35,"v":4.4},{"series":"TW_3","t":31.6,"v":4.5},{"series":"TW_3","t":31.95,"v":4.5},{"series":"TW_3","t":32.05,"v":4.6},{"series":"TW_3","t":32.25,"v":4.7},{"series":"TW_3","t":32.45,"v":4.9},{"series":"TW_3","t":32.75,"v":5.2},{"series":"TW_3","t":33.0,"v":5.4}
  ],
  "sunrise": [{"series":"sunrise","t":7.87},{"series":"sunrise","t":31.87}],
  "mins": [{"series":"Base min","v":3.3},{"series":"Method min","v":3.18}],
  "now": [{"t":27.0}],
  "forecast": [{"series":"Sander forecast","t":27,"v":3.3},{"series":"Sander forecast","t":28,"v":3.97},{"series":"Sander forecast","t":29,"v":3.98},{"series":"Sander forecast","t":30,"v":4.37},{"series":"Sander forecast","t":31,"v":4.79},{"series":"Sander forecast","t":32,"v":5.25}],
  "conf": [{"series":"95% confidence","t":27,"t2":33,"v":2.4,"v2":4.0}]
},
"layer": [
  {
    "data": {"name": "conf"},
    "mark": {"type": "rect"},
    "encoding": {
      "x": {"field": "t", "type": "quantitative", "scale": {"domain": [1.5, 34.5], "nice": false, "zero": false}, "axis": {"title": "UTC time [hours]", "values": [5,10,15,20,25,30], "labelFlush": false, "titlePadding": 5}},
      "x2": {"field": "t2"},
      "y": {"field": "v", "type": "quantitative", "scale": {"domain": [-0.3, 8.5], "nice": false, "zero": false}, "axis": {"title": "Temperature [ °C]", "values": [0,1,2,3,4,5,6,7,8], "labelFlush": false, "titlePadding": 8}},
      "y2": {"field": "v2"},
      "color": {"field": "series", "type": "nominal",
        "scale": {"domain": ["TW_1","TW_2","TW_3","TL","sunrise","Base min","Method min","Sander forecast","95% confidence"], "range": ["black","black","black","#1f77b4","#ffff00","#ff0000","#800080","#ff0000","#e5cce5"]},
        "legend": {
          "symbolType": {"expr": "datum.label === 'Sander forecast' ? 'M0.45,-0.6L1.69,0.6M1.69,-0.6L0.45,0.6' : datum.label === '95% confidence' ? 'M-1,-0.72H3.14V0.72H-1Z' : 'M-1,0H3.14'"}
        }
      }
    }
  },
  {
    "data": {"name": "lines"},
    "mark": {"type": "line", "strokeWidth": 2.08},
    "encoding": {
      "x": {"field": "t", "type": "quantitative"},
      "y": {"field": "v", "type": "quantitative"},
      "color": {"field": "series", "type": "nominal"}
    }
  },
  {
    "data": {"name": "sunrise"},
    "mark": {"type": "rule", "strokeWidth": 2.08},
    "encoding": {
      "x": {"field": "t", "type": "quantitative"},
      "color": {"field": "series", "type": "nominal"}
    }
  },
  {
    "data": {"name": "mins"},
    "mark": {"type": "rule", "strokeWidth": 2.08},
    "encoding": {
      "y": {"field": "v", "type": "quantitative"},
      "color": {"field": "series", "type": "nominal"}
    }
  },
  {
    "data": {"name": "now"},
    "mark": {"type": "rule", "strokeWidth": 2.08, "color": "#808080"},
    "encoding": {
      "x": {"field": "t", "type": "quantitative"}
    }
  },
  {
    "data": {"name": "forecast"},
    "mark": {"type": "point", "shape": "M-1,-1L1,1M1,-1L-1,1", "filled": false, "strokeWidth": 1.4, "size": 69, "opacity": 1},
    "encoding": {
      "x": {"field": "t", "type": "quantitative"},
      "y": {"field": "v", "type": "quantitative"},
      "color": {"field": "series", "type": "nominal"}
    }
  }
]
}
